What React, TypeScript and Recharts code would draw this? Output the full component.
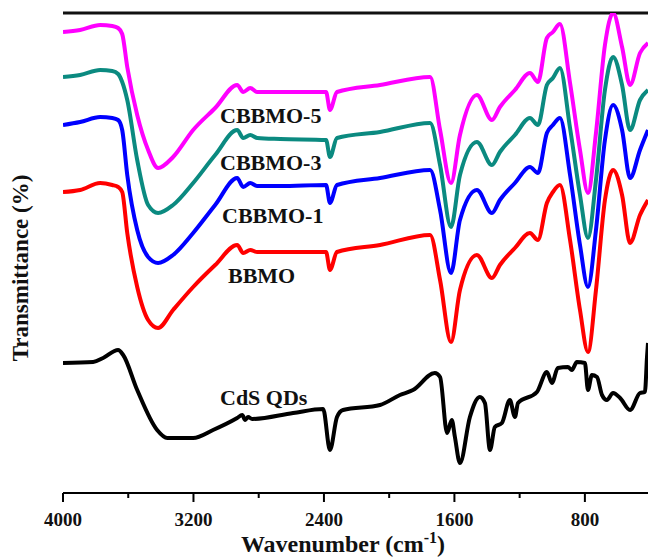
import React from 'react';
import { LineChart, Line, XAxis, YAxis, ReferenceLine } from 'recharts';

// wavenumber grid shared by the four composite spectra (cm-1)
const wavenumbers = [
  4000, 3895, 3772, 3698, 3662, 3637, 3606, 3545, 3478, 3417,
  3325, 3202, 3067, 2932, 2895, 2852, 2809, 2668, 2387, 2363,
  2320, 2056, 1749, 1688, 1621, 1566, 1462, 1370, 1321, 1229,
  1137, 1088, 1033, 996, 953, 891, 830, 781, 732, 677,
  627, 572, 523, 462, 413,
];

// transmittance, arbitrary stacked units
const cbbmo5 = [
  461, 463, 468, 467, 465, 459, 426, 378, 343, 325,
  336, 363, 385, 408, 401, 405, 401, 401, 401, 383,
  401, 408, 416, 363, 310, 358, 398, 373, 386, 403,
  420, 411, 455, 461, 469, 410, 343, 300, 360, 448,
  480, 446, 408, 440, 450,
];
const cbbmo3 = [
  416, 418, 423, 422, 419, 411, 393, 333, 288, 280,
  288, 310, 338, 363, 355, 358, 355, 354, 353, 336,
  355, 361, 370, 328, 266, 318, 351, 328, 341, 358,
  375, 368, 408, 415, 425, 365, 298, 255, 313, 403,
  436, 408, 363, 393, 403,
];
const cbbmo1 = [
  368, 371, 376, 375, 373, 363, 318, 263, 236, 230,
  238, 260, 288, 315, 306, 310, 307, 307, 308, 290,
  308, 315, 323, 283, 220, 273, 303, 280, 293, 310,
  326, 320, 360, 368, 375, 318, 248, 206, 263, 353,
  388, 363, 315, 343, 363,
];
const bbmo = [
  301, 303, 310, 308, 306, 301, 260, 206, 173, 165,
  183, 206, 228, 248, 240, 243, 241, 241, 241, 223,
  241, 248, 258, 213, 151, 203, 238, 215, 228, 245,
  260, 253, 290, 301, 308, 253, 183, 141, 203, 293,
  323, 298, 250, 278, 293,
];

// CdS QDs has its own sampling
const cdsWavenumbers = [
  4000, 3815, 3754, 3662, 3631, 3545, 3423, 3361, 3202, 3080,
  2932, 2901, 2883, 2865, 2840, 2589, 2405, 2363, 2320, 2283,
  2056, 1934, 1854, 1720, 1688, 1645, 1616, 1597, 1566, 1505,
  1444, 1413, 1382, 1352, 1309, 1260, 1229, 1210, 1094, 1033,
  1002, 966, 904, 880, 849, 800, 781, 757, 726, 695,
  665, 627, 584, 523, 462, 432, 419, 413,
];
const cds = [
  130, 131, 135, 143, 138, 103, 63, 55, 55, 63,
  75, 78, 73, 76, 74, 80, 84, 43, 76, 83,
  88, 98, 103, 120, 116, 60, 73, 56, 30, 76,
  96, 90, 43, 66, 70, 93, 76, 90, 101, 121,
  110, 125, 126, 123, 131, 130, 103, 118, 116, 98,
  93, 100, 95, 83, 100, 101, 136, 150,
];

const xTicks = [4000, 3600, 3200, 2800, 2400, 2000, 1600, 1200, 800];

const series = [
  { name: 'BBMO', values: bbmo, color: '#ff0000' },
  { name: 'CBBMO-1', values: cbbmo1, color: '#0000ff' },
  { name: 'CBBMO-3', values: cbbmo3, color: '#0b8a80' },
  { name: 'CBBMO-5', values: cbbmo5, color: '#ff00ff' },
];

const labels = [
  { text: 'CBBMO-5', x: 220, y: 123 },
  { text: 'CBBMO-3', x: 220, y: 170 },
  { text: 'CBBMO-1', x: 222, y: 223 },
  { text: 'BBMO', x: 228, y: 283 },
  { text: 'CdS QDs', x: 220, y: 405 },
];

const toPoints = (xs: number[], ys: number[]) => xs.map((wn, i) => ({ wn, t: ys[i] }));

const FONT = '"Liberation Serif", "Times New Roman", serif';

const WnTick = (props: any) => {
  const { x, y, payload } = props;
  const major = payload.value % 800 === 0;
  return (
    <g>
      <line x1={x} x2={x} y1={y} y2={y + (major ? 9 : 5)} stroke="#000" strokeWidth={2} />
      {major && (
        <text x={x} y={y + 33} textAnchor="middle" fontFamily={FONT} fontWeight="bold" fontSize={19} fill="#111">
          {payload.value}
        </text>
      )}
    </g>
  );
};

export default function App() {
  return (
    <div style={{ position: 'absolute', left: 0, top: 0, width: 648, height: 560, overflow: 'hidden', background: '#fff' }}>
      <LineChart width={648} height={560} margin={{ top: 13, right: 0, left: 63, bottom: 0 }}>
        <XAxis
          dataKey="wn"
          type="number"
          domain={[413, 4000]}
          reversed
          allowDataOverflow
          ticks={xTicks}
          interval={0}
          tick={<WnTick />}
          tickLine={false}
          tickSize={0}
          tickMargin={0}
          height={67}
          axisLine={{ stroke: '#000', strokeWidth: 2 }}
        />
        <YAxis
          type="number"
          domain={[0, 480]}
          allowDataOverflow
          width={0}
          tick={false}
          tickLine={false}
          axisLine={{ stroke: '#000', strokeWidth: 2 }}
        />
        <ReferenceLine y={480} stroke="#111" strokeWidth={3} />
        <Line
          data={toPoints(cdsWavenumbers, cds)}
          dataKey="t"
          type="monotone"
          stroke="#000"
          strokeWidth={4}
          dot={false}
          isAnimationActive={false}
        />
        {series.map((s) => (
          <Line
            key={s.name}
            data={toPoints(wavenumbers, s.values)}
            dataKey="t"
            name={s.name}
            type="monotone"
            stroke={s.color}
            strokeWidth={4}
            dot={false}
            isAnimationActive={false}
          />
        ))}
      </LineChart>
      <svg width={648} height={560} style={{ position: 'absolute', left: 0, top: 0, pointerEvents: 'none' }}>
        {labels.map((l) => (
          <text key={l.text} x={l.x} y={l.y} fontFamily={FONT} fontWeight="bold" fontSize={22} fill="#111">
            {l.text}
          </text>
        ))}
        <text
          x={28}
          y={268}
          transform="rotate(-90 28 268)"
          textAnchor="middle"
          fontFamily={FONT}
          fontWeight="bold"
          fontSize={23}
          fill="#111"
        >
          Transmittance (%)
        </text>
        <text x={343} y={552} textAnchor="middle" fontFamily={FONT} fontWeight="bold" fontSize={24} fill="#111">
          Wavenumber (cm
          <tspan fontSize={16} dy={-9}>-1</tspan>
          <tspan dy={9}>)</tspan>
        </text>
      </svg>
    </div>
  );
}
